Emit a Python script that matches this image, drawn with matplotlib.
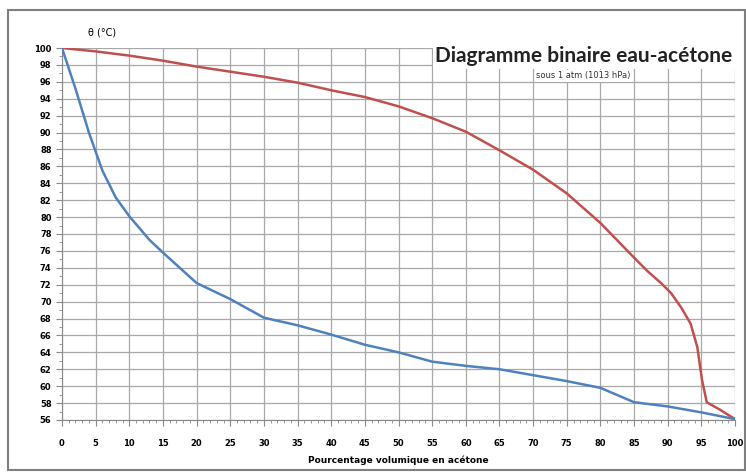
import matplotlib
matplotlib.use("Agg")
from matplotlib import pyplot as plt
from matplotlib.patches import Rectangle
from matplotlib.ticker import MultipleLocator

# Vapeur (courbe de rosée)
x_vap = [0, 5, 10, 15, 20, 25, 30, 35, 40, 45, 50, 55, 60, 65, 70, 75, 80, 85, 87, 89, 90.5, 92, 93.4, 94.4, 95.1, 95.8, 97.8, 100]
t_vap = [100, 99.6, 99.1, 98.5, 97.8, 97.2, 96.6, 95.9, 95.0, 94.2, 93.1, 91.7, 90.1, 87.9, 85.6, 82.8, 79.3, 75.2, 73.6, 72.2, 71.0, 69.3, 67.4, 64.6, 60.7, 58.1, 57.2, 56.1]

# Liquide (courbe d'ébullition)
x_liq = [0, 2, 4, 6, 8, 10, 13, 15, 20, 25, 30, 35, 40, 45, 50, 55, 60, 65, 70, 75, 80, 85, 90, 95, 100]
t_liq = [100, 95.2, 90.0, 85.5, 82.3, 80.1, 77.3, 75.8, 72.2, 70.3, 68.1, 67.2, 66.1, 64.9, 64.0, 62.9, 62.4, 62.0, 61.3, 60.6, 59.8, 58.1, 57.6, 56.9, 56.1]

fig = plt.figure(figsize=(7.46, 4.72), dpi=100)
ax = fig.add_axes([0.0831, 0.1102, 0.9022, 0.7881])

ax.plot(x_vap, t_vap, color="#c0504d", linewidth=1.8, zorder=3)
ax.plot(x_liq, t_liq, color="#4f81bd", linewidth=1.8, zorder=3)

ax.set_xlim(0, 100)
ax.set_ylim(56, 100)
ax.xaxis.set_major_locator(MultipleLocator(5))
ax.xaxis.set_minor_locator(MultipleLocator(1))
ax.yaxis.set_major_locator(MultipleLocator(2))
ax.yaxis.set_minor_locator(MultipleLocator(1))
ax.grid(True, which="major", color="#a8a8a8", linewidth=0.9)
ax.tick_params(axis="both", which="major", labelsize=6, length=4, color="#888888")
ax.tick_params(axis="both", which="minor", length=2, color="#888888")
ax.tick_params(axis="x", which="major", pad=10)
for lab in ax.get_xticklabels() + ax.get_yticklabels():
    lab.set_fontweight("bold")
for s in ["top", "right"]:
    ax.spines[s].set_visible(False)
for s in ["left", "bottom"]:
    ax.spines[s].set_color("#888888")

ax.set_xlabel("Pourcentage volumique en acétone", fontsize=6.5, fontweight="bold", labelpad=5)
fig.text(0.137, 0.932, "θ (°C)", fontsize=7, ha="center", va="center")

fig.text(0.783, 0.881, "Diagramme binaire eau-acétone", fontsize=15, fontweight="bold",
         family="Lato", ha="center", va="center", color="#222222",
         bbox=dict(facecolor="white", edgecolor="none", pad=2))
fig.text(0.782, 0.839, "sous 1 atm (1013 hPa)", fontsize=6, ha="center", va="center",
         color="#333333", bbox=dict(facecolor="white", edgecolor="none", pad=1))

fig.patches.append(Rectangle((0.011, 0.004), 0.987, 0.975, transform=fig.transFigure,
                             fill=False, edgecolor="#7f7f7f", linewidth=1.5))

fig.savefig("out.png", dpi=100)
